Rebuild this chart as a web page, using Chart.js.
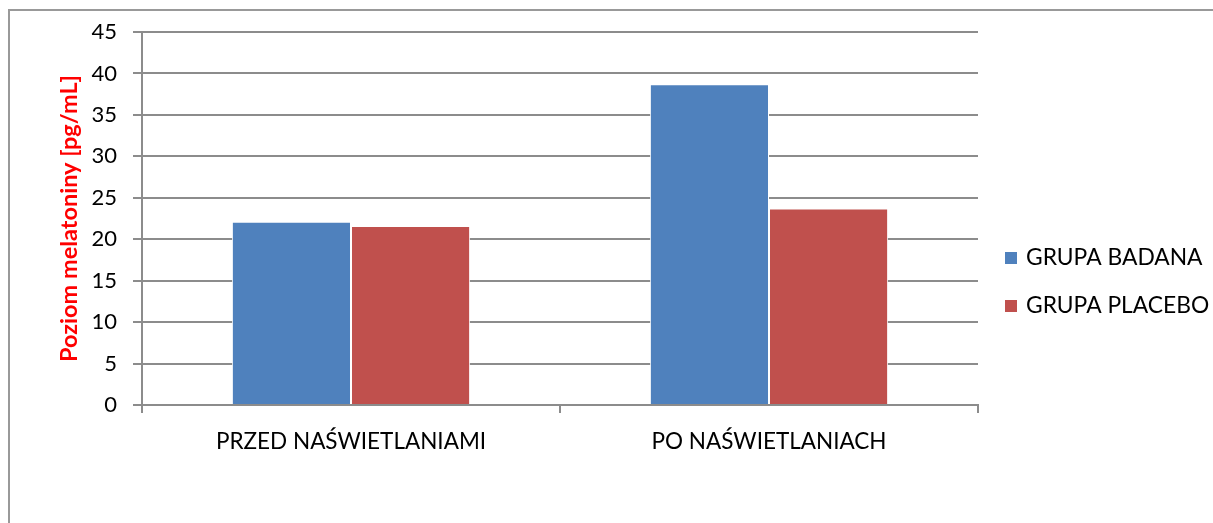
<!DOCTYPE html>
<html>
<head>
<meta charset="utf-8">
<script src="https://cdn.jsdelivr.net/npm/chart.js@4"></script>
<style>
  body { margin: 0; background: #fff; }
  #ramka { position: absolute; left: 8px; top: 9px; width: 1400px; height: 700px; border: 2px solid #999; }
  #wrap { position: absolute; left: 0; top: 0; width: 1213px; height: 523px; }
</style>
</head>
<body>
<div id="ramka"></div>
<div id="wrap"><canvas id="wykres"></canvas></div>
<script>
const kategorie = ["PRZED NAŚWIETLANIAMI", "PO NAŚWIETLANIACH"];
const grupaBadana = [22.1, 38.7];
const grupaPlacebo = [21.6, 23.7];
const osY = { min: 0, max: 45, krok: 5 };

const FONT = "Lato, 'Open Sans', sans-serif";
const SZARY = "#8c8c8c";

// legenda po prawej, rysowana recznie
const legendaBoczna = {
  id: "legendaBoczna",
  afterDraw(chart) {
    const ctx = chart.ctx;
    ctx.save();
    ctx.font = "22.8px " + FONT;
    ctx.textBaseline = "middle";
    chart.data.datasets.forEach((ds, i) => {
      const y = 258 + i * 48;
      ctx.fillStyle = ds.backgroundColor;
      ctx.fillRect(1005, y - 6, 12, 12);
      ctx.fillStyle = "#000";
      ctx.fillText(ds.label, 1026, y);
    });
    ctx.restore();
  }
};

new Chart(document.getElementById("wykres"), {
  type: "bar",
  data: {
    labels: kategorie,
    datasets: [
      { label: "GRUPA BADANA", data: grupaBadana, backgroundColor: "#4F81BD", borderColor: "#fff", borderWidth: 1 },
      { label: "GRUPA PLACEBO", data: grupaPlacebo, backgroundColor: "#C0504D", borderColor: "#fff", borderWidth: 1 }
    ]
  },
  options: {
    responsive: true,
    maintainAspectRatio: false,
    animation: false,
    layout: { padding: { left: 55, top: 32, right: 235, bottom: 68 } },
    datasets: { bar: { categoryPercentage: 0.57, barPercentage: 1 } },
    plugins: { legend: { display: false }, tooltip: { enabled: false } },
    scales: {
      x: {
        afterFit: (s) => { s.height = 50; },
        grid: { offset: true, drawOnChartArea: false, color: SZARY, lineWidth: 2, tickLength: 8 },
        border: { color: SZARY, width: 2 },
        ticks: { color: "#000", font: { family: FONT, size: 22.5 }, padding: 15, maxRotation: 0 }
      },
      y: {
        min: osY.min,
        max: osY.max,
        afterFit: (s) => { s.width = 87; },
        grid: { color: SZARY, lineWidth: 2, tickLength: 9 },
        border: { color: SZARY, width: 2 },
        ticks: { stepSize: osY.krok, color: "#000", font: { family: FONT, size: 22 }, padding: 16 },
        title: {
          display: true,
          text: "Poziom melatoniny [pg/mL]",
          color: "#ff0000",
          font: { family: FONT, size: 23.5, weight: "bold" },
          padding: 0
        }
      }
    }
  },
  plugins: [legendaBoczna]
});
</script>
</body>
</html>
